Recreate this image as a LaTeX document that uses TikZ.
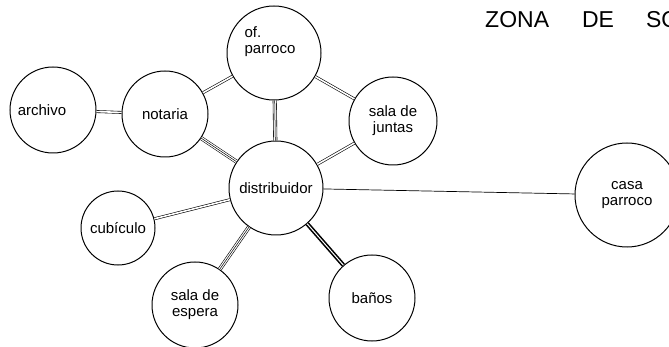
\documentclass[tikz,border=0pt]{standalone}
\usepackage{fontspec}
\setmainfont{Liberation Sans}

\begin{document}
\begin{tikzpicture}[x=1pt, y=-1pt,
    every node/.style={font=\fontsize{15}{16}\selectfont, align=center},
    room/.style={circle, draw, line width=1pt, inner sep=0pt},
    link/.style={line width=0.7pt},
    linkdouble/.style={double, double distance=1.6pt, line width=0.6pt},
    linktriple/.style={double, double distance=2.8pt, line width=0.6pt, postaction={draw, line width=0.5pt}},
    linkheavy/.style={double, double distance=1pt, line width=1.6pt}
]
\useasboundingbox (0,0) rectangle (669,347);

\node[font=\fontsize{23}{23}\selectfont, anchor=base west, inner sep=0pt] (zona) at (485,28) {ZONA\hspace{33pt}DE\hspace{32pt}SO};

\node[room, minimum size=86pt, label={[shift={(-11,0)}]center:archivo}] (archivo) at (53,110) {};
\node[room, minimum size=86pt] (notaria) at (165,114) {notaria};
\node[room, minimum size=94pt, label={[shift={(-4,-11)}, align=left]center:of.\\parroco}] (parroco) at (274,53) {};
\node[room, minimum size=88pt] (juntas) at (393,121) {sala de\\juntas};
\node[room, minimum size=94pt] (distribuidor) at (276,188) {distribuidor};
\node[room, minimum size=74pt] (cubiculo) at (118,228) {cubículo};
\node[room, minimum size=86pt] (espera) at (195,305) {sala de\\espera};
\node[room, minimum size=86pt] (banos) at (372,298) {baños};
\node[room, minimum size=104pt] (casa) at (627,195) {casa\\parroco};

\draw[linkdouble] (archivo) -- (notaria);
\draw[linkdouble] (notaria) -- (parroco);
\draw[linktriple] (notaria) -- (distribuidor);
\draw[linktriple] (parroco) -- (distribuidor);
\draw[linkdouble] (parroco) -- (juntas);
\draw[linkdouble] (juntas) -- (distribuidor);
\draw[linkdouble] (cubiculo) -- (distribuidor);
\draw[linktriple] (distribuidor) -- (espera);
\draw[linkheavy] (distribuidor) -- (banos);
\draw[link] (distribuidor) -- (casa);

\end{tikzpicture}
\end{document}
